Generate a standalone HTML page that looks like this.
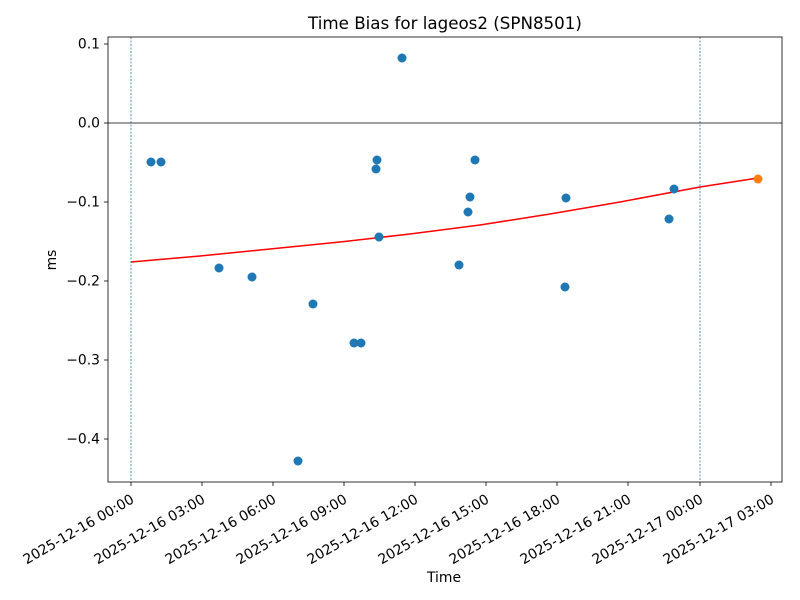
<!DOCTYPE html>
<html><head><meta charset="utf-8"><style>body{margin:0;background:#fff}svg{display:block}text{font-family:"DejaVu Sans",sans-serif;font-size:13.9px;fill:#000}</style></head><body>
<svg width="800" height="600" viewBox="0 0 800 600">
<rect width="800" height="600" fill="#fff"/>
<line x1="131" y1="37" x2="131" y2="482" stroke="#1f77b4" stroke-width="0.8" stroke-dasharray="2,1.5"/>
<line x1="700" y1="37" x2="700" y2="482" stroke="#1f77b4" stroke-width="0.8" stroke-dasharray="2,1.5"/>
<line x1="108" y1="123" x2="782" y2="123" stroke="#000" stroke-width="0.8"/>
<polyline fill="none" stroke="#ff0000" stroke-width="1.5" points="131,262 200,256 270,249 340,242 410,234 480,225 550,214 620,202 700,187 758,178"/>
<g fill="#1f77b4">
<circle cx="151" cy="162" r="4.5"/><circle cx="161" cy="162" r="4.5"/><circle cx="219" cy="268" r="4.5"/><circle cx="252" cy="277" r="4.5"/><circle cx="298" cy="461" r="4.5"/><circle cx="313" cy="304" r="4.5"/><circle cx="354" cy="343" r="4.5"/><circle cx="361" cy="343" r="4.5"/><circle cx="376" cy="169" r="4.5"/><circle cx="377" cy="160" r="4.5"/><circle cx="379" cy="237" r="4.5"/><circle cx="402" cy="58" r="4.5"/><circle cx="459" cy="265" r="4.5"/><circle cx="468" cy="212" r="4.5"/><circle cx="470" cy="197" r="4.5"/><circle cx="475" cy="160" r="4.5"/><circle cx="565" cy="287" r="4.5"/><circle cx="566" cy="198" r="4.5"/><circle cx="669" cy="219" r="4.5"/><circle cx="674" cy="189" r="4.5"/>
</g>
<circle cx="758" cy="179" r="4.5" fill="#ff7f0e"/>
<rect x="108" y="37" width="674" height="445" fill="none" stroke="#000" stroke-width="0.8"/>
<g stroke="#000" stroke-width="0.8">
<line x1="104" y1="44" x2="108" y2="44"/><line x1="104" y1="123" x2="108" y2="123"/><line x1="104" y1="202" x2="108" y2="202"/><line x1="104" y1="281" x2="108" y2="281"/><line x1="104" y1="360" x2="108" y2="360"/><line x1="104" y1="439" x2="108" y2="439"/>
<line x1="131" y1="482" x2="131" y2="486"/><line x1="202" y1="482" x2="202" y2="486"/><line x1="273" y1="482" x2="273" y2="486"/><line x1="344" y1="482" x2="344" y2="486"/><line x1="415" y1="482" x2="415" y2="486"/><line x1="486" y1="482" x2="486" y2="486"/><line x1="557" y1="482" x2="557" y2="486"/><line x1="628" y1="482" x2="628" y2="486"/><line x1="700" y1="482" x2="700" y2="486"/><line x1="771" y1="482" x2="771" y2="486"/>
</g>
<g text-anchor="end">
<text x="100" y="48.5">0.1</text><text x="100" y="127.5">0.0</text><text x="100" y="206.5">−0.1</text><text x="100" y="285.5">−0.2</text><text x="100" y="364.5">−0.3</text><text x="100" y="443.5">−0.4</text>
</g>
<g text-anchor="end">
<text transform="translate(135,502) rotate(-30)">2025-12-16 00:00</text>
<text transform="translate(206,502) rotate(-30)">2025-12-16 03:00</text>
<text transform="translate(277,502) rotate(-30)">2025-12-16 06:00</text>
<text transform="translate(348,502) rotate(-30)">2025-12-16 09:00</text>
<text transform="translate(419,502) rotate(-30)">2025-12-16 12:00</text>
<text transform="translate(490,502) rotate(-30)">2025-12-16 15:00</text>
<text transform="translate(561,502) rotate(-30)">2025-12-16 18:00</text>
<text transform="translate(632,502) rotate(-30)">2025-12-16 21:00</text>
<text transform="translate(704,502) rotate(-30)">2025-12-17 00:00</text>
<text transform="translate(775,502) rotate(-30)">2025-12-17 03:00</text>
</g>
<text x="444" y="582" text-anchor="middle">Time</text>
<text transform="translate(56,260) rotate(-90)" text-anchor="middle">ms</text>
<text x="445" y="29" text-anchor="middle" style="font-size:16.7px">Time Bias for lageos2 (SPN8501)</text>
</svg>
</body></html>
